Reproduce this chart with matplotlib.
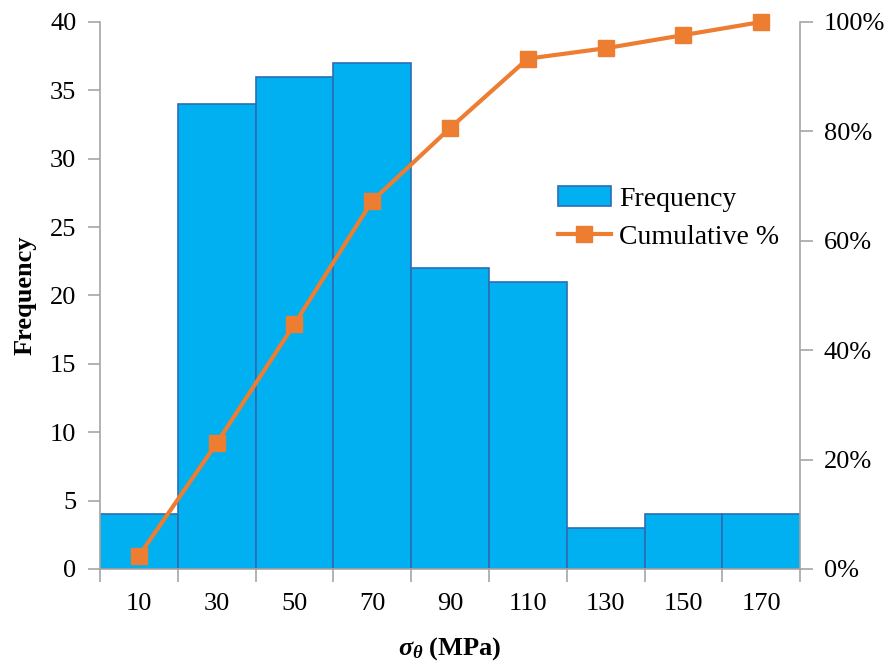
import matplotlib
matplotlib.use("Agg")
import matplotlib.pyplot as plt
import numpy as np
from matplotlib.ticker import FuncFormatter

plt.rcParams['font.family'] = ['Liberation Serif', 'DejaVu Serif']
plt.rcParams['mathtext.fontset'] = 'custom'
plt.rcParams['mathtext.it'] = 'Liberation Serif:italic:bold'
plt.rcParams['mathtext.rm'] = 'Liberation Serif:bold'

bin_centers = [10, 30, 50, 70, 90, 110, 130, 150, 170]
frequency = [4, 34, 36, 37, 22, 21, 3, 4, 4]
cumulative_pct = [2.4, 23.0, 44.8, 67.3, 80.6, 93.3, 95.2, 97.6, 100.0]

bar_color = '#00b0f0'
edge_color = '#2e6db4'
line_color = '#ed7d31'
spine_color = '#a6a6a6'
fs = 19

fig = plt.figure(figsize=(8.93, 6.72), dpi=100)
ax = fig.add_axes([0.112, 0.1533, 0.784, 0.814])
ax.bar(bin_centers, frequency, width=20, color=bar_color, edgecolor=edge_color,
       linewidth=1.2, label='Frequency', zorder=2)
ax.set_xlim(0, 180)
ax.set_ylim(0, 40)
ax.set_yticks(range(0, 41, 5))
ax.set_xticks(range(0, 181, 20))
ax.set_xticklabels([])
ax.set_xticks(bin_centers, minor=True)
ax.set_xticklabels([str(c) for c in bin_centers], minor=True)
ax.tick_params(axis='x', which='minor', length=0, pad=17, labelsize=fs)
ax.tick_params(axis='x', which='major', length=9, color=spine_color, width=1.2)
ax.tick_params(axis='y', length=9, color=spine_color, width=1.2, labelsize=fs, pad=8)
for s in ['top', 'right']:
    ax.spines[s].set_visible(False)
for s in ['left', 'bottom']:
    ax.spines[s].set_color(spine_color)
    ax.spines[s].set_linewidth(1.2)

ax2 = ax.twinx()
ax2.plot(bin_centers, [v / 100 for v in cumulative_pct], color=line_color, lw=3,
         marker='s', markersize=11, label='Cumulative %', zorder=3, clip_on=False)
ax2.set_ylim(0, 1)
ax2.set_yticks(np.arange(0, 1.01, 0.2))
ax2.yaxis.set_major_formatter(FuncFormatter(lambda v, p: f"{int(round(v*100))}%"))
ax2.tick_params(axis='y', length=9, color=spine_color, width=1.2, labelsize=fs, pad=8)
for s in ['top', 'left', 'bottom']:
    ax2.spines[s].set_visible(False)
ax2.spines['right'].set_color(spine_color)
ax2.spines['right'].set_linewidth(1.2)

ax.set_ylabel('Frequency', fontsize=fs, fontweight='bold', labelpad=10)
ax.set_xlabel(r'$\sigma_\theta$ (MPa)', fontsize=fs, fontweight='bold', labelpad=15)

h1, l1 = ax.get_legend_handles_labels()
h2, l2 = ax2.get_legend_handles_labels()
ax2.legend(h1 + h2, l1 + l2, loc='upper left', bbox_to_anchor=(0.638, 0.72),
           frameon=False, fontsize=20, handlelength=1.9, handletextpad=0.3,
           labelspacing=0.45, borderaxespad=0)

fig.savefig('out.png', dpi=100)
